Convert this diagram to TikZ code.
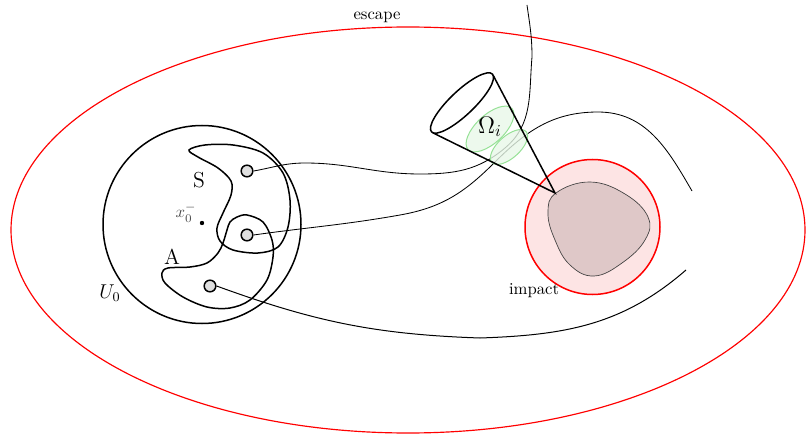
\documentclass[tikz,border=0pt]{standalone}
\usepackage{amsmath, amssymb}
\usepackage{xcolor}
\usepackage{tikz}

\definecolor{impactfill}{RGB}{253,228,228}
\definecolor{bodyfill}{RGB}{223,200,200}
\definecolor{omegafill}{RGB}{232,248,232}
\definecolor{omegaline}{RGB}{150,225,150}

\begin{document}
\begin{tikzpicture}[x=0.6pt,y=0.6pt,
    traj/.style={line width=0.5pt},
    bold/.style={line width=0.9pt},
    ic/.style={circle,draw,line width=0.9pt,fill=gray!25,inner sep=0pt,minimum size=7pt},
    omega/.style={draw=omegaline,fill=omegafill,fill opacity=0.8,line width=0.6pt},
    bigletter/.style={font=\fontsize{13}{15}\selectfont}]
    \useasboundingbox (0,0) rectangle (806,435);

    \draw[red,line width=0.7pt] (408,205) ellipse [x radius=397,y radius=203];
    \node (escape) at (377,418) {escape};

    \draw[bold] (202,210.5) circle (99);
    \node[font=\large] (U0) at (110,142) {$U_0$};

    \draw[bold] plot[smooth cycle,tension=0.55] coordinates {(189,285) (205,290) (233,290) (263,282) (283,262) (290,235) (288,208) (278,188) (258,182) (233,185) (220,194) (217,207) (223,222) (231,240) (231,254) (218,267) (198,278)};
    \draw[bold] plot[smooth cycle,tension=0.55] coordinates {(237,218) (247,220) (263,213) (272,195) (273,178) (267,155) (250,135) (230,127) (207,128) (183,138) (165,152) (162,162) (168,167) (190,168) (207,172) (218,182) (223,192) (227,205) (230,213)};
    \node[bigletter] (S) at (199,255) {S};
    \node[bigletter] (A) at (172,178) {A};

    \node[circle,fill,inner sep=0pt,minimum size=2.6pt] (x0) at (202,212) {};
    \node[text=black!70] (x0lab) at (186,222) {$x_0^-$};

    \draw[red,fill=impactfill,line width=0.9pt] (592.5,208) circle (67.5);
    \draw[fill=bodyfill,draw=black!75,line width=0.4pt] plot[smooth cycle,tension=0.7] coordinates {(556,242) (590,253) (625,241) (648,218) (645,195) (622,172) (594,159) (570,170) (555,195) (548,222)};
    \node (impact) at (534,144) {impact};

    \node[ic] (p1) at (247,264) {};
    \node[ic] (p2) at (247,200) {};
    \node[ic] (p3) at (210,149) {};
    \coordinate (end1) at (527,430);
    \coordinate (end2) at (692,244);
    \coordinate (end3) at (686,165);

    \draw[traj] (p1.east) to[out=10,in=180] (305,272) to[out=0,in=180] (420,261)
        to[out=0,in=-140] (505,287) to[out=40,in=-95] (532,378) to[out=90,in=-82] (end1);
    \draw[traj] (p2.east) to[out=8,in=190] (400,220) to[out=10,in=-135] (494,272)
        to[out=45,in=180] (598,323) to[out=0,in=120] (end2);
    \draw[traj,line width=0.6pt] (p3.east) to[out=-20,in=178] (480,97) to[out=2,in=-139] (end3);

    \draw[omega,rotate around={43:(490,306)}] (490,306) ellipse [x radius=30,y radius=14];
    \draw[omega,rotate around={42:(509,288)}] (509,288) ellipse [x radius=23,y radius=11];
    \node[font=\Large] (omega) at (490,308) {$\Omega_i$};

    \coordinate (apex) at (555,242);
    \coordinate (conetop) at (493,360);
    \coordinate (conebot) at (432.6,302.3);
    \draw[bold,rotate around={43.5:(462,332)}] (462,332) ellipse [x radius=42,y radius=12];
    \draw[bold] (conetop) -- (apex) -- (conebot);
\end{tikzpicture}
\end{document}
